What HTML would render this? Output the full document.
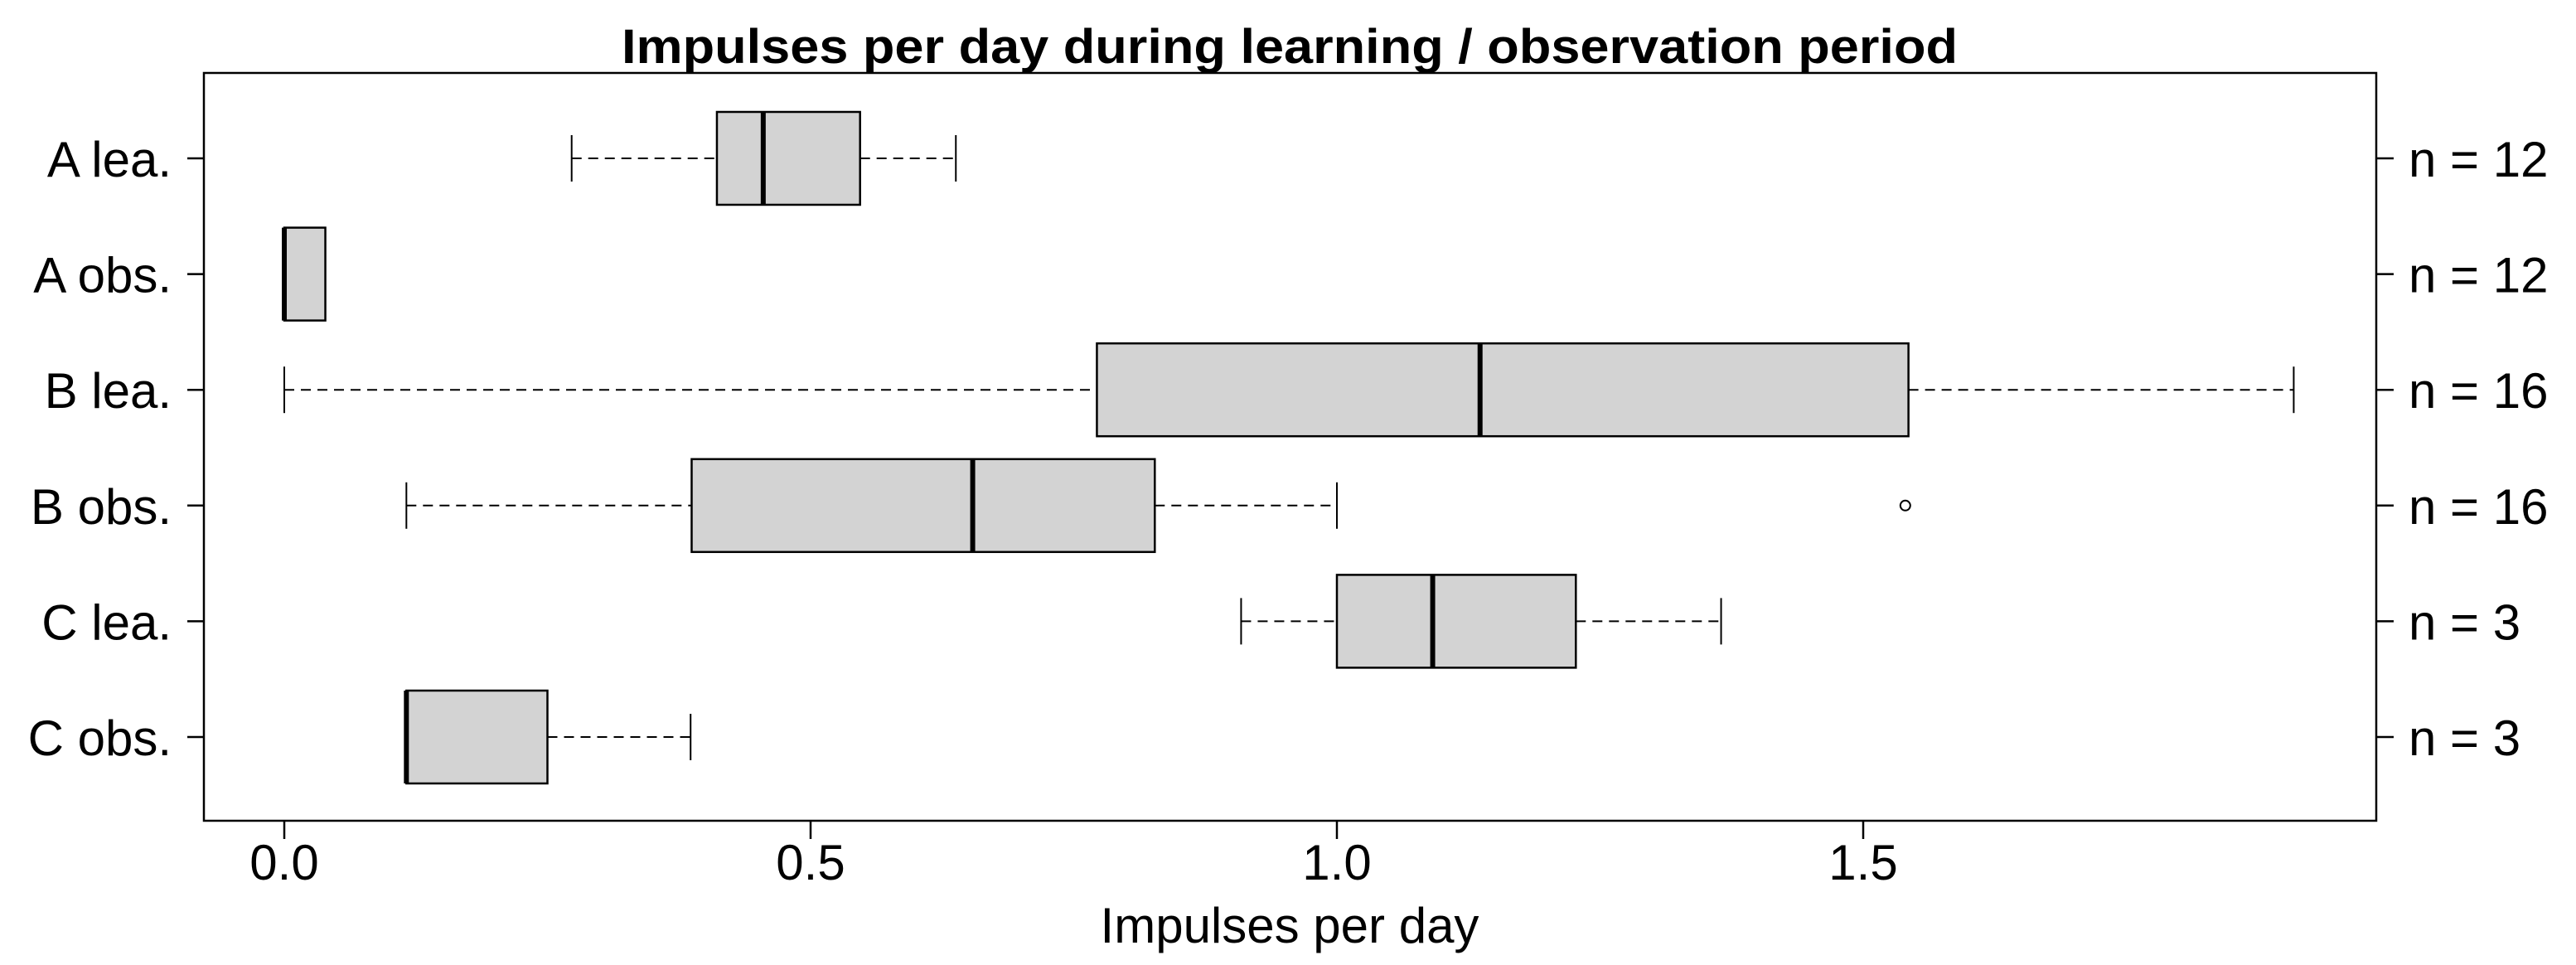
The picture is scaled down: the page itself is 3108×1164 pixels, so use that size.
<!DOCTYPE html>
<html><head><meta charset="utf-8"><style>
html,body{margin:0;padding:0;background:#fff;}
svg{display:block;font-family:"Liberation Sans",Arial,sans-serif;}
</style></head><body>
<svg id="chart" width="3108" height="1164" viewBox="0 0 3108 1164">
<text x="1556" y="76" font-size="58" font-weight="bold" text-anchor="middle" textLength="1612" lengthAdjust="spacingAndGlyphs">Impulses per day during learning / observation period</text>
<rect x="246" y="88" width="2621" height="902" fill="none" stroke="#000" stroke-width="2.5"/>
<g id="marks"></g>
<text x="1556" y="1137" font-size="60" text-anchor="middle">Impulses per day</text>
</svg>
<script>
const groups = ["A lea.","A obs.","B lea.","B obs.","C lea.","C obs."];
const counts = ["n = 12","n = 12","n = 16","n = 16","n = 3","n = 3"];
const whiskerLow = [0.273,0,0,0.116,0.909,0.116];
const q1 = [0.411,0,0.772,0.387,1.0,0.116];
const median = [0.455,0,1.136,0.654,1.091,0.116];
const q3 = [0.547,0.039,1.543,0.827,1.227,0.250];
const whiskerHigh = [0.638,0,1.909,1.0,1.365,0.386];
const outliers = [[],[],[],[1.540],[],[]];
const xTicks = [0,0.5,1.0,1.5];
const xTickLabels = ["0.0","0.5","1.0","1.5"];

const NS="http://www.w3.org/2000/svg";
const svg=document.getElementById('chart');
const g=document.getElementById('marks');
const X0=343, XU=1270;
function xs(v){return X0+v*XU;}
const Y0=191, YS=139.6;
function ys(i){return Y0+i*YS;}
function mk(tag,attrs,parent){const e=document.createElementNS(NS,tag);for(const k in attrs)e.setAttribute(k,attrs[k]);(parent||g).appendChild(e);return e;}

groups.forEach((name,i)=>{
  const y=ys(i);
  let t=mk('line',{x1:226,x2:246,y1:y,y2:y,stroke:'#000','stroke-width':2.5},svg);
  
  
  let l=mk('text',{x:207,y:y+22,'font-size':60,'text-anchor':'end'},svg);
  l.textContent=name;
  
  
  let rt=mk('line',{x1:2867,x2:2888,y1:y,y2:y,stroke:'#000','stroke-width':2.5},svg);
  
  
  let n=mk('text',{x:2906,y:y+22,'font-size':60},svg);
  n.textContent=counts[i];
  
  

  const bg=mk('g',{});
  
  
  const dash={stroke:'#000','stroke-width':2,'stroke-dasharray':'12 8'};
  if(q1[i]>whiskerLow[i]){
    mk('line',Object.assign({x1:xs(whiskerLow[i]),x2:xs(q1[i]),y1:y,y2:y},dash),bg);
  }
  if(whiskerHigh[i]>q3[i]){
    mk('line',Object.assign({x1:xs(q3[i]),x2:xs(whiskerHigh[i]),y1:y,y2:y},dash),bg);
  }
  if(whiskerLow[i]<q1[i]) mk('line',{x1:xs(whiskerLow[i]),x2:xs(whiskerLow[i]),y1:y-28,y2:y+28,stroke:'#000','stroke-width':2},bg);
  if(whiskerHigh[i]>q3[i]) mk('line',{x1:xs(whiskerHigh[i]),x2:xs(whiskerHigh[i]),y1:y-28,y2:y+28,stroke:'#000','stroke-width':2},bg);
  mk('rect',{x:xs(q1[i]),y:y-56,width:xs(q3[i])-xs(q1[i]),height:112,fill:'#d3d3d3',stroke:'#000','stroke-width':2.5},bg);
  mk('line',{x1:xs(median[i]),x2:xs(median[i]),y1:y-56,y2:y+56,stroke:'#000','stroke-width':6},bg);
  outliers[i].forEach(v=>{
    const c=mk('circle',{cx:xs(v),cy:y,r:6,fill:'none',stroke:'#000','stroke-width':2},bg);
    
    
  });
});

xTicks.forEach((v,k)=>{
  const t=mk('line',{x1:xs(v),x2:xs(v),y1:990,y2:1012,stroke:'#000','stroke-width':2.5},svg);
  
  
  const l=mk('text',{x:xs(v),y:1061,'font-size':60,'text-anchor':'middle'},svg);
  l.textContent=xTickLabels[k];
  
  
});
</script>
</body></html>
